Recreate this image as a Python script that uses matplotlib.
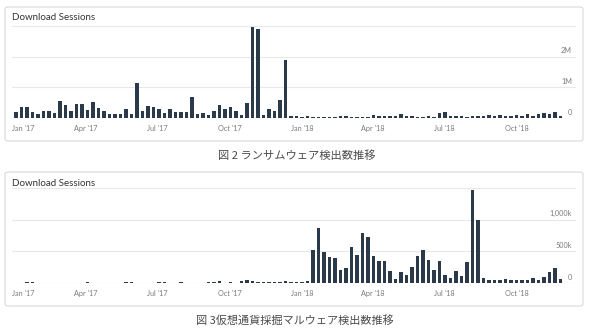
import matplotlib
matplotlib.use('Agg')
from matplotlib import pyplot as plt
from matplotlib.patches import FancyBboxPatch
from matplotlib.transforms import ScaledTranslation, blended_transform_factory
import pandas as pd

# weekly download sessions, Jan 2017 - Nov 2018
weeks = pd.date_range('2017-01-02', periods=100, freq='7D')

# 図2 ransomware, millions
ransom = [0.20, 0.35, 0.35, 0.20, 0.13, 0.24, 0.24, 0.17, 0.55, 0.41,
          0.23, 0.47, 0.47, 0.25, 0.52, 0.33, 0.23, 0.13, 0.13, 0.13,
          0.28, 0.14, 1.13, 0.23, 0.38, 0.36, 0.29, 0.15, 0.29, 0.20,
          0.20, 0.20, 0.68, 0.12, 0.16, 0.09, 0.24, 0.41, 0.28, 0.35,
          0.23, 0.09, 0.48, 2.98, 2.89, 0.10, 0.28, 0.22, 0.59, 1.89,
          0.07, 0.07, 0.04, 0.05, 0.04, 0.04, 0.03, 0.04, 0.04, 0.05,
          0.07, 0.04, 0.04, 0.03, 0.04, 0.09, 0.08, 0.05, 0.05, 0.06,
          0.12, 0.08, 0.05, 0.04, 0.04, 0.05, 0.04, 0.16, 0.18, 0.06,
          0.05, 0.05, 0.04, 0.05, 0.06, 0.05, 0.09, 0.06, 0.09, 0.08,
          0.08, 0.09, 0.07, 0.12, 0.08, 0.14, 0.16, 0.14, 0.18, 0.05]

# 図3 cryptominer, thousands
miner = [0, 0, 15, 15, 0, 0, 0, 0, 0, 0,
         0, 0, 0, 15, 0, 0, 0, 0, 0, 0,
         20, 15, 0, 0, 0, 0, 15, 15, 0, 0,
         20, 0, 0, 0, 0, 20, 15, 25, 0, 15,
         0, 35, 40, 35, 20, 20, 20, 20, 20, 25,
         20, 20, 20, 25, 516, 872, 489, 404, 388, 207,
         240, 574, 447, 782, 734, 420, 340, 340, 191, 64,
         181, 122, 260, 431, 516, 367, 213, 340, 122, 80,
         194, 113, 339, 1470, 990, 75, 50, 50, 55, 65,
         50, 45, 45, 50, 75, 55, 97, 177, 231, 60]

tick_dates = pd.to_datetime(['2017-01-01', '2017-04-01', '2017-07-01', '2017-10-01',
                             '2018-01-01', '2018-04-01', '2018-07-01', '2018-10-01'])
tick_labels = ["Jan '17", "Apr '17", "Jul '17", "Oct '17",
               "Jan '18", "Apr '18", "Jul '18", "Oct '18"]

ransom_grid = [1, 2, 3]
ransom_ylabels = ['0', '1M', '2M']
miner_grid = [500, 1000, 1500]
miner_ylabels = ['0', '500k', '1,000k']

captions = ['図 2 ランサムウェア検出数推移', '図 3仮想通貨採掘マルウェア検出数推移']

W, H = 590, 332
BAR = '#2b3a4a'
GRID = '#e8e8e8'
LABEL = '#7a7a7a'


def fx(px):
    return px / W


def fy(py):
    return 1 - py / H


def draw_panel(fig, top, bottom, box, values, ymax, grid, ylabels):
    ax = fig.add_axes([fx(12), fy(bottom), fx(576 - 12), (bottom - top) / H])
    ax.bar(weeks, values, width=4.7, color=BAR, zorder=3)
    step = pd.Timedelta(days=7)
    ax.set_xlim(weeks[0] - 0.73 * step, weeks[0] + 101.8 * step)
    ax.set_ylim(0, ymax)
    for g in grid:
        ax.axhline(g, color=GRID, lw=0.8, zorder=1)
    ax.axhline(0, color='#cccccc', lw=0.8, zorder=2)
    for s in ax.spines.values():
        s.set_visible(False)
    ax.set_yticks([])
    ax.set_xticks(tick_dates)
    ax.set_xticklabels(tick_labels, fontsize=5.2, color=LABEL, family='Lato')
    ax.tick_params(axis='x', length=0, pad=5)
    first = ax.get_xticklabels()[0]
    first.set_ha('left')
    first.set_transform(first.get_transform() + ScaledTranslation(-3 / 100, 0, fig.dpi_scale_trans))
    tr = blended_transform_factory(ax.transAxes, ax.transData)
    for v, t in zip([0] + grid[:-1], ylabels):
        ax.text(0.993, v + ymax * 0.025, t, transform=tr, ha='right', va='bottom',
                fontsize=5.2, color=LABEL, family='Lato')
    # panel frame and title
    x0, y0, x1, y1 = box
    fig.patches.append(FancyBboxPatch((fx(x0), fy(y1)), fx(x1 - x0), (y1 - y0) / H,
                                      boxstyle='round,pad=0,rounding_size=0.006',
                                      transform=fig.transFigure, facecolor='none',
                                      edgecolor='#d9d9d9', lw=0.8, zorder=0))
    fig.text(fx(12.5), fy(y0 + 11), 'Download Sessions', fontsize=7, color='#333333',
             family='Lato', ha='left', va='center')
    return ax


fig = plt.figure(figsize=(5.9, 3.32), dpi=100)

draw_panel(fig, 26, 118, (5, 7, 583, 141), ransom, 3.0, ransom_grid, ransom_ylabels)
draw_panel(fig, 188, 283, (5, 172, 583, 306), miner, 1500, miner_grid, miner_ylabels)

fig.text(fx(297), fy(156), captions[0], fontsize=8.1, color='#4a4a4a', ha='center', va='center',
         family=['Noto Sans CJK JP', 'DejaVu Sans'])
fig.text(fx(295), fy(320), captions[1], fontsize=8.0, color='#4a4a4a', ha='center', va='center',
         family=['Noto Sans CJK JP', 'DejaVu Sans'])

fig.savefig('out.png', dpi=100)
